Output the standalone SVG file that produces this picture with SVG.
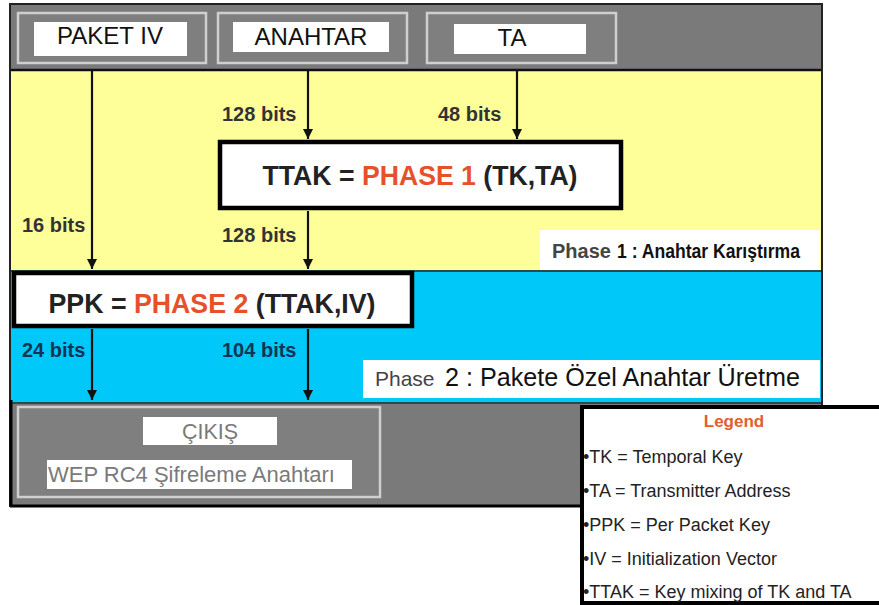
<svg xmlns="http://www.w3.org/2000/svg" width="879" height="605" viewBox="0 0 879 605">
<defs>
<style>
text{font-family:"Liberation Sans",Arial,sans-serif}
.hdr{font-size:24px;fill:#111;text-anchor:middle}
.bits{font-size:20px;font-weight:bold;fill:#333}
.bits2{font-size:20px;font-weight:bold;fill:#123456}
.big{font-size:28px;font-weight:bold;fill:#222;text-anchor:middle}
.red{fill:#e8502a}
.leg{font-size:18px;fill:#222}
.conn{stroke:#111;stroke-width:2.2;fill:none;marker-end:url(#ah)}
.hbox{fill:#7f7f7f;stroke:#cfcfcf;stroke-width:2.5}
.wbox{fill:#fff}
.node{fill:#fff;stroke:#000;stroke-width:4.5}
</style>
<marker id="ah" markerUnits="userSpaceOnUse" markerWidth="10" markerHeight="10" refX="10" refY="5" orient="auto">
<path d="M0,0 L10,5 L0,10 z" fill="#111"/>
</marker>
</defs>
<rect width="879" height="605" fill="#fff"/>
<g id="frame">
<rect x="10" y="4" width="812" height="66" fill="#7a7a7a"/>
<rect x="10" y="70" width="812" height="201" fill="#ffff99"/>
<rect x="10" y="271" width="812" height="132" fill="#00c8f8"/>
<rect x="10" y="403" width="812" height="102" fill="#7a7a7a"/>
<line x1="10" y1="70" x2="822" y2="70" stroke="#111" stroke-width="2.5"/>
<line x1="10" y1="271" x2="822" y2="271" stroke="#2a4a50" stroke-width="2"/>
<line x1="10" y1="403" x2="822" y2="403" stroke="#2a4a50" stroke-width="2"/>
<rect x="10" y="4" width="812" height="502" fill="none" stroke="#222" stroke-width="2"/>
<line x1="11" y1="400" x2="11" y2="506" stroke="#000" stroke-width="3"/>
<line x1="10" y1="506" x2="580" y2="506" stroke="#000" stroke-width="3"/>
</g>
<g id="paket-iv">
<rect class="hbox" x="18" y="13" width="188" height="50"/>
<rect class="wbox" x="34" y="22" width="153" height="34"/>
<text class="hdr" x="110" y="44">PAKET IV</text>
</g>
<g id="anahtar">
<rect class="hbox" x="218" y="13" width="189" height="50"/>
<rect class="wbox" x="233" y="22" width="156" height="30"/>
<text class="hdr" x="311" y="45">ANAHTAR</text>
</g>
<g id="ta">
<rect class="hbox" x="427" y="13" width="189" height="50"/>
<rect class="wbox" x="454" y="24" width="132" height="30"/>
<text class="hdr" x="512" y="46">TA</text>
</g>
<g id="connectors">
<line class="conn" x1="92" y1="71" x2="92" y2="269"/>
<line class="conn" x1="308" y1="71" x2="308" y2="139"/>
<line class="conn" x1="517" y1="71" x2="517" y2="139"/>
<line class="conn" x1="308" y1="211" x2="308" y2="269"/>
<line class="conn" x1="92" y1="329" x2="92" y2="400"/>
<line class="conn" x1="308" y1="329" x2="308" y2="400"/>
<text class="bits" x="222" y="121">128 bits</text>
<text class="bits" x="438" y="121">48 bits</text>
<text class="bits" x="22" y="232">16 bits</text>
<text class="bits" x="222" y="242">128 bits</text>
<text class="bits2" x="22" y="357">24 bits</text>
<text class="bits2" x="222" y="357">104 bits</text>
</g>
<g id="ttak">
<rect class="node" x="220" y="142" width="401" height="66"/>
<text class="big" x="420" y="185" textLength="315" lengthAdjust="spacingAndGlyphs">TTAK = <tspan class="red">PHASE 1</tspan> (TK,TA)</text>
</g>
<g id="phase1-label">
<rect x="540" y="230" width="280" height="40" fill="#fff"/>
<text x="552" y="258" font-size="20" font-weight="bold" fill="#444">Phase</text>
<text x="617" y="258" font-size="20" font-weight="bold" fill="#111" textLength="183" lengthAdjust="spacingAndGlyphs">1 : Anahtar Karıştırma</text>
</g>
<g id="ppk">
<rect class="node" x="14" y="273" width="398" height="53"/>
<text class="big" x="212" y="313" textLength="327" lengthAdjust="spacingAndGlyphs">PPK = <tspan class="red">PHASE 2</tspan> (TTAK,IV)</text>
</g>
<g id="phase2-label">
<rect x="363" y="360" width="457" height="38" fill="#fff"/>
<text x="375" y="386" font-size="21" fill="#444">Phase</text>
<text x="445" y="386" font-size="25" fill="#111" textLength="355" lengthAdjust="spacingAndGlyphs">2 : Pakete Özel Anahtar Üretme</text>
</g>
<g id="cikis">
<rect class="hbox" x="18" y="407" width="362" height="90"/>
<rect class="wbox" x="143" y="417" width="134" height="28"/>
<text x="210" y="439" font-size="21.5" fill="#7a7a7a" text-anchor="middle">ÇIKIŞ</text>
<rect class="wbox" x="47" y="460" width="305" height="29"/>
<text x="48" y="482" font-size="22" fill="#7a7a7a">WEP RC4 Şifreleme Anahtarı</text>
</g>
<g id="legend">
<rect x="582" y="407" width="310" height="196" fill="#fff" stroke="#000" stroke-width="4"/>
<text x="734" y="427" font-size="17" font-weight="bold" fill="#e06030" text-anchor="middle">Legend</text>
<text class="leg" x="583" y="463">•TK = Temporal Key</text>
<text class="leg" x="583" y="497">•TA = Transmitter Address</text>
<text class="leg" x="583" y="531">•PPK = Per Packet Key</text>
<text class="leg" x="583" y="565">•IV = Initialization Vector</text>
<text class="leg" x="583" y="598">•TTAK = Key mixing of TK and TA</text>
</g>
</svg>
